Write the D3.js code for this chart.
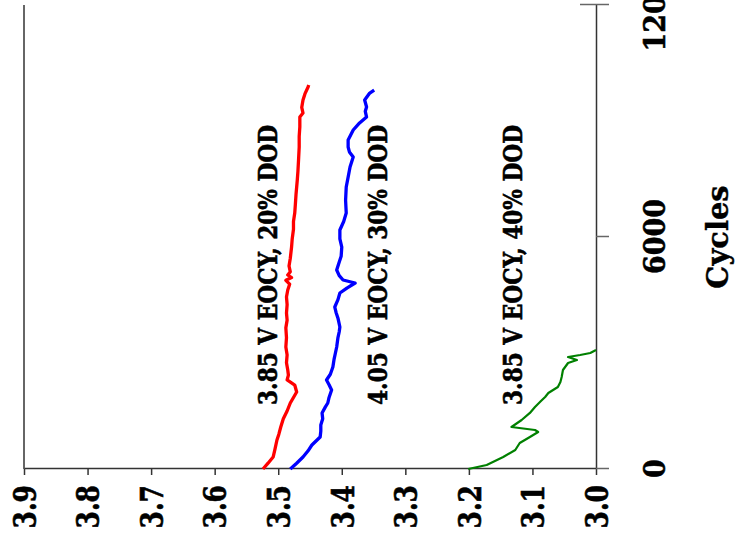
<!DOCTYPE html>
<html><head><meta charset="utf-8">
<script src="https://cdn.jsdelivr.net/npm/d3@7"></script>
<style>body{margin:0;background:#fff;overflow:hidden}</style>
</head><body>
<svg id="c" width="747" height="547"></svg>
<script>
// ---- data (cycles, voltage) ----
const voltageTicks = [3.0, 3.1, 3.2, 3.3, 3.4, 3.5, 3.6, 3.7, 3.8, 3.9];
const cycleTicks = [0, 6000, 12000];
const seriesNames = ["3.85 V EOCY, 20% DOD", "4.05 V EOCY, 30% DOD", "3.85 V EOCY, 40% DOD"];
const seriesColors = ["#ff0000", "#0000ff", "#008000"];

const red20 = [
  [0,3.524],[150,3.516],[310,3.508],[520,3.505],[750,3.502],[900,3.499],[1086,3.496],[1300,3.492],
  [1500,3.486],[1707,3.481],[1850,3.476],[1991,3.471],[2172,3.474],[2302,3.486],[2430,3.484],
  [2560,3.485],[2750,3.487],[2950,3.486],[3155,3.488],[3400,3.487],[3650,3.488],[3850,3.486],
  [4034,3.487],[4250,3.486],[4450,3.487],[4629,3.485],[4780,3.482],[4880,3.488],[4950,3.479],
  [5017,3.485],[5100,3.481],[5250,3.483],[5450,3.481],[5741,3.479],[5950,3.478],[6200,3.476],
  [6400,3.476],[6620,3.474],[6850,3.473],[7100,3.472],[7474,3.470],[7700,3.469],[8000,3.468],
  [8327,3.467],[8600,3.467],[8850,3.466],[9103,3.466],[9206,3.461],[9350,3.463],[9542,3.461],
  [9700,3.458],[9878,3.453],[9930,3.452]
];
const blue30 = [
  [0,3.481],[150,3.471],[310,3.461],[470,3.453],[620,3.447],[828,3.434],[980,3.433],[1138,3.433],
  [1300,3.430],[1448,3.431],[1600,3.426],[1707,3.422],[1850,3.420],[2043,3.416],[2180,3.420],
  [2302,3.424],[2450,3.418],[2638,3.414],[2850,3.412],[3000,3.410],[3155,3.408],[3400,3.406],
  [3550,3.404],[3672,3.403],[3900,3.406],[4050,3.409],[4189,3.411],[4380,3.406],[4551,3.403],
  [4680,3.392],[4810,3.379],[4888,3.398],[5000,3.404],[5146,3.408],[5300,3.405],[5500,3.401],
  [5741,3.400],[5950,3.403],[6180,3.403],[6400,3.397],[6620,3.393],[6950,3.394],[7293,3.393],
  [7550,3.390],[7810,3.387],[8068,3.382],[8200,3.388],[8327,3.390],[8508,3.390],[8767,3.382],
  [8950,3.372],[9103,3.361],[9250,3.363],[9361,3.361],[9542,3.364],[9723,3.356],[9801,3.349]
];
const green40 = [
  [0,3.201],[103,3.172],[310,3.146],[491,3.127],[672,3.120],[828,3.104],[957,3.091],[1009,3.096],
  [1086,3.133],[1267,3.117],[1450,3.104],[1603,3.096],[1750,3.087],[1862,3.080],[1965,3.075],
  [2121,3.060],[2250,3.056],[2379,3.054],[2560,3.052],[2741,3.044],[2819,3.030],[2896,3.044],
  [2948,3.025],[3000,3.009],[3077,3.000]
];
const seriesData = [red20, blue30, green40];
// label anchors (cycles, voltage) for the series names
const labelAnchors = [[1655,3.502],[1655,3.329],[1655,3.116]];

// ---- layout (chart is drawn in a frame rotated -90deg) ----
const W = 464, H = 572;
const svg = d3.select("#c");
const g = svg.append("g").attr("transform", "translate(24,469) rotate(-90)");

const x = d3.scaleLinear().domain([0, 12000]).range([0, W]);
const y = d3.scaleLinear().domain([3.0, 3.9]).range([H, 0]);

const font = "'DejaVu Serif', serif";
const K = 1.25; // vertical glyph stretch of the original figure

// top border (appears as left vertical line)
g.append("line").attr("x1", 0).attr("x2", W).attr("y1", 0).attr("y2", 0)
  .attr("stroke", "#333").attr("stroke-width", 1.5);

// voltage axis
const ya = g.append("g").call(d3.axisLeft(y).tickValues(voltageTicks).tickFormat(d3.format(".1f")).tickSize(6).tickSizeOuter(0));
ya.select(".domain").attr("stroke", "#333").attr("stroke-width", 1.5);
ya.selectAll(".tick line").attr("stroke", "#333").attr("stroke-width", 1.5);
ya.selectAll(".tick text").attr("font-family", font).attr("font-weight", "bold")
  .attr("font-size", 25).attr("fill", "#000").attr("stroke", "#000").attr("stroke-width", 0.5)
  .attr("x", -16).attr("dy", "0.36em").attr("transform", `scale(1,${K})`);

// cycles axis
const xa = g.append("g").attr("transform", `translate(0,${H})`)
  .call(d3.axisBottom(x).tickValues(cycleTicks).tickFormat(d3.format("d")).tickSize(13).tickSizeOuter(0));
xa.select(".domain").attr("stroke", "#333").attr("stroke-width", 1.5);
xa.selectAll(".tick line").attr("stroke", "#666").attr("stroke-width", 1.5);
xa.selectAll(".tick").filter(d => d === 12000).append("line")
  .attr("y1", 0).attr("y2", -16).attr("stroke", "#666").attr("stroke-width", 1.5);
xa.selectAll(".tick text").attr("font-family", font).attr("font-weight", "bold")
  .attr("font-size", 27).attr("fill", "#000").attr("stroke", "#000").attr("stroke-width", 0.5)
  .attr("y", 0).attr("dy", "0").attr("transform", `translate(0,69) scale(1,1.12)`);

// axis title
g.append("text").attr("transform", `translate(${x(6000)},${H + 132}) scale(1,1.05)`)
  .attr("text-anchor", "middle")
  .attr("font-family", font).attr("font-weight", "bold").attr("font-size", 29)
  .attr("stroke", "#000").attr("stroke-width", 0.4).text("Cycles");

// series lines
const line = d3.line().x(d => x(d[0])).y(d => y(d[1]));
seriesData.forEach((s, i) => {
  g.append("path").datum(s).attr("d", line).attr("fill", "none")
    .attr("stroke", seriesColors[i]).attr("stroke-width", i === 2 ? 2.2 : 3.3)
    .attr("stroke-linejoin", "round");
});

// series labels
seriesNames.forEach((n, i) => {
  g.append("text")
    .attr("transform", `translate(${x(labelAnchors[i][0])},${y(labelAnchors[i][1])}) scale(1,1.2)`)
    .attr("font-family", font).attr("font-weight", "bold").attr("font-size", 22)
    .attr("stroke", "#000").attr("stroke-width", 0.5)
    .attr("textLength", 280).attr("lengthAdjust", "spacingAndGlyphs").text(n);
});
</script>
</body></html>
